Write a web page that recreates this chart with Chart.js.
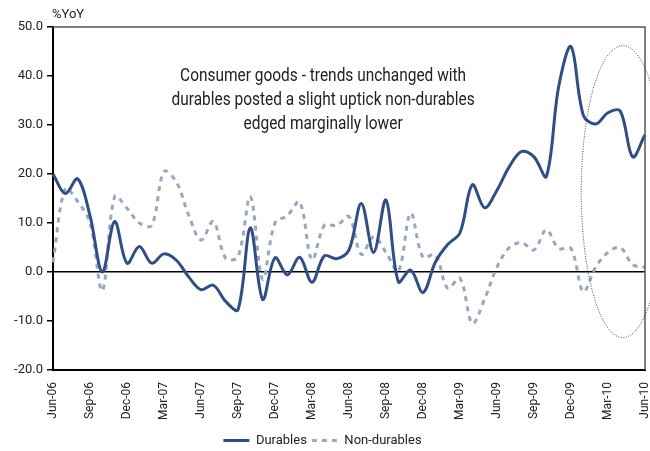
<!DOCTYPE html>
<html>
<head>
<meta charset="utf-8">
<script src="https://cdn.jsdelivr.net/npm/chart.js@4.4.0/dist/chart.umd.min.js"></script>
<style>
  html, body { margin: 0; padding: 0; background: #fff; }
</style>
</head>
<body>
<canvas id="myChart" width="650" height="451"></canvas>
<script>
const months = [
  "Jun-06", "Jul-06", "Aug-06", "Sep-06", "Oct-06", "Nov-06", "Dec-06",
  "Jan-07", "Feb-07", "Mar-07", "Apr-07", "May-07", "Jun-07", "Jul-07", "Aug-07", "Sep-07", "Oct-07", "Nov-07", "Dec-07",
  "Jan-08", "Feb-08", "Mar-08", "Apr-08", "May-08", "Jun-08", "Jul-08", "Aug-08", "Sep-08", "Oct-08", "Nov-08", "Dec-08",
  "Jan-09", "Feb-09", "Mar-09", "Apr-09", "May-09", "Jun-09", "Jul-09", "Aug-09", "Sep-09", "Oct-09", "Nov-09", "Dec-09",
  "Jan-10", "Feb-10", "Mar-10", "Apr-10", "May-10", "Jun-10"
];

const durables = [
  20, 16, 19, 11.5, 0, 10.3, 1.8,
  5.2, 1.8, 3.7, 2.4, -1, -3.6, -2.7, -6, -7.7, 9, -5.6, 2.9,
  -0.6, 3, -2.1, 3.3, 2.7, 4.5, 14, 4, 14.7, -2, 0.4, -4.2,
  2, 5.6, 8, 17.8, 13.1, 16.7, 21.5, 24.6, 23.5, 19.5, 37.8, 46,
  32, 30.2, 32.5, 32.8, 23.5, 28
];

const nonDurables = [
  2, 17, 14.4, 10, -3.8, 15.4, 13,
  10, 9.5, 20.5, 18.4, 11.6, 6.5, 10.3, 2.8, 3.1, 15.4, -1.5, 10,
  11.5, 14.3, 2.5, 9.5, 9.5, 11.3, 3.6, 7.2, 4, 0.2, 12, 3,
  3.5, -3.3, -1.3, -10.5, -5.5, 1, 5, 6, 4.5, 8.6, 4.8, 4.8,
  -4, 1, 4, 5, 1.5, 1
];

const yTicks = [-20, -10, 0, 10, 20, 30, 40, 50];

const noteLines = [
  "Consumer goods - trends unchanged with",
  "durables posted a slight uptick non-durables",
  "edged marginally lower"
];

// dotted ellipse round the last months, in data units
const highlight = { index: 46.2, value: 16.4, halfMonths: 3.37, halfValue: 29.8 };
const noteAnchor = { index: 21.9, value: 39.8 };

const FONT = "Roboto, 'Liberation Sans', sans-serif";

const extras = {
  id: "extras",
  afterDraw(chart) {
    const ctx = chart.ctx;
    const area = chart.chartArea;
    const x = chart.scales.x;
    const y = chart.scales.y;
    ctx.save();

    // top and right frame
    ctx.strokeStyle = "#555";
    ctx.lineWidth = 1.5;
    ctx.beginPath();
    ctx.moveTo(area.left, area.top);
    ctx.lineTo(area.right, area.top);
    ctx.lineTo(area.right, area.bottom);
    ctx.stroke();

    // unit label
    ctx.fillStyle = "#222";
    ctx.font = "13px " + FONT;
    ctx.textAlign = "left";
    ctx.textBaseline = "bottom";
    ctx.fillText("%YoY", area.left - 1, area.top - 6);

    // note, squeezed to a condensed look
    ctx.font = "18px " + FONT;
    ctx.textAlign = "center";
    ctx.textBaseline = "middle";
    const nx = x.getPixelForValue(noteAnchor.index);
    const ny = y.getPixelForValue(noteAnchor.value);
    const squeeze = 286 / ctx.measureText(noteLines[0]).width;
    ctx.save();
    ctx.translate(nx, ny);
    ctx.scale(squeeze, 1);
    noteLines.forEach((line, i) => ctx.fillText(line, 0, i * 24));
    ctx.restore();

    // ellipse
    const cx = x.getPixelForValue(highlight.index);
    const cy = y.getPixelForValue(highlight.value);
    const rx = x.getPixelForValue(highlight.index + highlight.halfMonths) - cx;
    const ry = cy - y.getPixelForValue(highlight.value + highlight.halfValue);
    ctx.strokeStyle = "#333";
    ctx.lineWidth = 1;
    ctx.setLineDash([1, 1.5]);
    ctx.beginPath();
    ctx.ellipse(cx, cy, rx, ry, 0, 0, Math.PI * 2);
    ctx.stroke();
    ctx.restore();
  }
};

function renderChart() {
  const ctx = document.getElementById("myChart");

  new Chart(ctx, {
    type: "line",
    data: {
      labels: months,
      datasets: [
        {
          label: "Durables",
          data: durables,
          borderColor: "#2e4d8c",
          borderWidth: 3,
          pointRadius: 0,
          tension: 0.35,
          fill: false,
        },
        {
          label: "Non-durables",
          data: nonDurables,
          borderColor: "#98a7c2",
          borderWidth: 3,
          borderDash: [5, 5],
          pointRadius: 0,
          tension: 0.35,
          fill: false,
        },
      ],
    },
    options: {
      responsive: false,
      animation: false,
      layout: { padding: { top: 27, right: 5, left: 0, bottom: -6 } },
      plugins: {
        tooltip: { enabled: false },
        legend: {
          position: "bottom",
          labels: {
            usePointStyle: true,
            pointStyleWidth: 26,
            boxHeight: 10,
            padding: 5,
            color: "#222",
            font: { family: FONT, size: 13 },
            generateLabels(chart) {
              return chart.data.datasets.map((ds, i) => ({
                text: ds.label,
                fillStyle: ds.borderColor,
                strokeStyle: ds.borderColor,
                lineWidth: 3,
                lineDash: ds.borderDash || [],
                pointStyle: "line",
                fontColor: "#222",
                hidden: false,
                datasetIndex: i,
              }));
            },
          },
        },
      },
      scales: {
        x: {
          offset: false,
          grid: { display: false },
          border: { color: "#000", width: 2 },
          ticks: {
            autoSkip: false,
            maxRotation: 90,
            minRotation: 90,
            padding: 4,
            color: "#222",
            font: { family: FONT, size: 12 },
            callback: function (value, index) {
              return index % 3 === 0 ? months[index] : null;
            },
          },
          afterFit(scale) {
            const legendH = scale.chart.legend ? scale.chart.legend.height : 24;
            scale.height = 451 + 6 - 370 - legendH;
            scale.paddingLeft = 0;
            scale.paddingRight = 0;
          },
        },
        y: {
          min: -20,
          max: 50,
          afterBuildTicks(scale) {
            scale.ticks = yTicks.map((v) => ({ value: v }));
          },
          grid: {
            color: (c) => (c.tick && c.tick.value === 0 ? "#000" : "rgba(0,0,0,0)"),
            tickColor: "#000",
            tickLength: 6,
            lineWidth: 1.5,
          },
          border: { color: "#000", width: 2 },
          ticks: {
            padding: 4,
            color: "#222",
            font: { family: FONT, size: 13 },
            callback: (v) => Number(v).toFixed(1),
          },
          afterFit(scale) {
            scale.width = 53;
            scale.paddingTop = 0;
            scale.paddingBottom = 0;
          },
        },
      },
    },
    plugins: [extras],
  });
}

renderChart();
</script>
</body>
</html>
